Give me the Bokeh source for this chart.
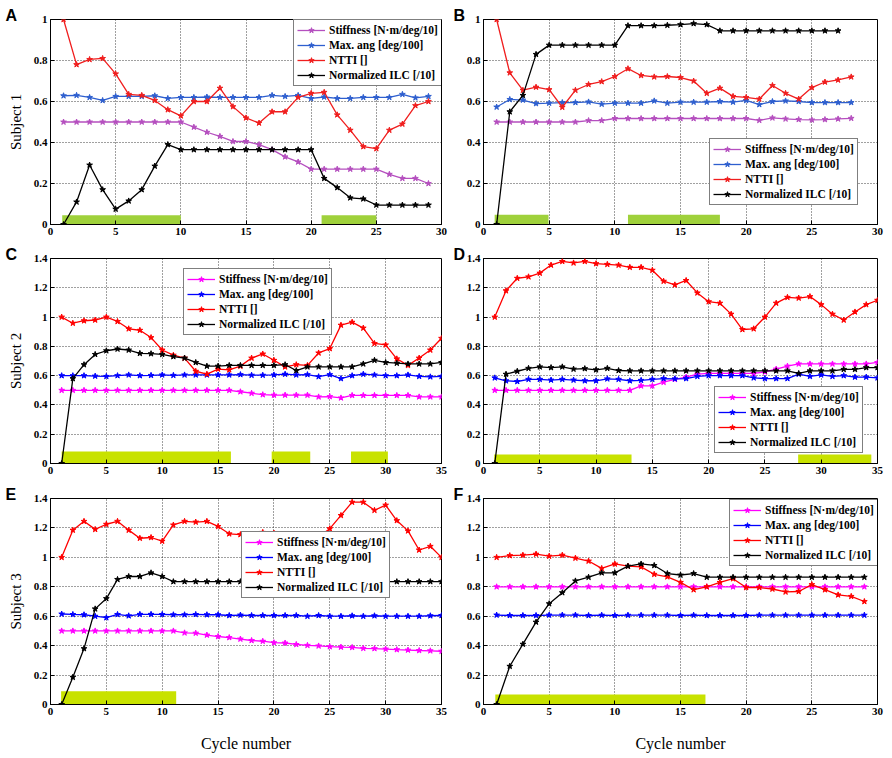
from bokeh.plotting import figure
from bokeh.layouts import row, column
from bokeh.models import (Range1d, FixedTicker, Legend, LegendItem, Title,
                          CustomJSTickFormatter)
from bokeh.embed import file_html
from bokeh.resources import INLINE

# ---------------- data ----------------
series_names = ["Stiffness [N\u00b7m/deg/10]", "Max. ang [deg/100]", "NTTI []", "Normalized ILC [/10]"]

cyc_a = list(range(1, 30))
stiff_a = [0.50, 0.50, 0.50, 0.50, 0.50, 0.50, 0.50, 0.50, 0.50, 0.50, 0.475, 0.45, 0.43, 0.405, 0.405,
           0.39, 0.365, 0.33, 0.305, 0.27, 0.27, 0.27, 0.27, 0.27, 0.27, 0.245, 0.225, 0.225, 0.20]
maxang_a = [0.628, 0.63, 0.62, 0.605, 0.625, 0.625, 0.625, 0.628, 0.615, 0.62, 0.62, 0.622, 0.62, 0.62, 0.62,
            0.62, 0.63, 0.625, 0.63, 0.615, 0.622, 0.615, 0.615, 0.62, 0.62, 0.62, 0.635, 0.618, 0.625]
ntti_a = [1.0, 0.78, 0.805, 0.81, 0.735, 0.635, 0.63, 0.605, 0.56, 0.53, 0.6, 0.6, 0.665, 0.575, 0.52,
          0.495, 0.55, 0.55, 0.62, 0.64, 0.645, 0.535, 0.46, 0.38, 0.37, 0.46, 0.49, 0.58, 0.6]
ilc_a = [0.0, 0.11, 0.29, 0.17, 0.075, 0.115, 0.17, 0.285, 0.39, 0.365, 0.365, 0.365, 0.365, 0.365, 0.365,
         0.365, 0.365, 0.365, 0.365, 0.365, 0.225, 0.18, 0.13, 0.125, 0.095, 0.095, 0.095, 0.095, 0.095]
bar_start_a = [0.9, 20.8]
bar_end_a = [10.0, 25.0]
bar_h_a = 0.045

cyc_b = list(range(1, 29))
cyc_b_ilc = list(range(1, 28))
stiff_b = [0.5, 0.5, 0.5, 0.5, 0.5, 0.5, 0.5, 0.507, 0.507, 0.517, 0.517, 0.517, 0.517, 0.517, 0.517,
           0.517, 0.517, 0.517, 0.517, 0.517, 0.508, 0.52, 0.515, 0.512, 0.51, 0.512, 0.515, 0.518]
maxang_b = [0.573, 0.61, 0.607, 0.59, 0.592, 0.595, 0.595, 0.598, 0.587, 0.592, 0.592, 0.592, 0.603, 0.592,
            0.597, 0.597, 0.597, 0.6, 0.597, 0.605, 0.585, 0.6, 0.603, 0.6, 0.595, 0.595, 0.595, 0.595]
ntti_b = [1.0, 0.74, 0.655, 0.67, 0.658, 0.572, 0.655, 0.683, 0.697, 0.722, 0.76, 0.727, 0.72, 0.722,
          0.717, 0.7, 0.64, 0.665, 0.625, 0.62, 0.612, 0.678, 0.64, 0.612, 0.668, 0.695, 0.705, 0.72]
ilc_b = [0.0, 0.55, 0.63, 0.83, 0.875, 0.875, 0.875, 0.875, 0.875, 0.875, 0.97, 0.97, 0.97, 0.972,
         0.975, 0.98, 0.975, 0.945, 0.945, 0.945, 0.945, 0.945, 0.945, 0.945, 0.945, 0.945, 0.945]
bar_start_b = [0.85, 11.0]
bar_end_b = [4.95, 18.0]
bar_h_b = 0.047

cyc_c = list(range(1, 36))
stiff_c = [0.5, 0.5, 0.5, 0.5, 0.5, 0.5, 0.5, 0.5, 0.5, 0.5, 0.5, 0.5, 0.5, 0.5, 0.5, 0.5,
           0.49, 0.48, 0.47, 0.467, 0.467, 0.467, 0.467, 0.455, 0.457, 0.448, 0.465, 0.465, 0.465,
           0.465, 0.465, 0.465, 0.455, 0.455, 0.455]
maxang_c = [0.6, 0.6, 0.6, 0.597, 0.595, 0.6, 0.605, 0.6, 0.602, 0.605, 0.602, 0.605, 0.605, 0.605, 0.605,
            0.605, 0.607, 0.603, 0.603, 0.605, 0.61, 0.605, 0.607, 0.593, 0.607, 0.58, 0.6, 0.61, 0.605,
            0.6, 0.6, 0.605, 0.595, 0.592, 0.595]
ntti_c = [1.0, 0.958, 0.975, 0.98, 1.0, 0.97, 0.92, 0.91, 0.86, 0.775, 0.74, 0.72, 0.63, 0.61, 0.645,
          0.64, 0.665, 0.72, 0.748, 0.705, 0.66, 0.675, 0.67, 0.755, 0.785, 0.945, 0.965, 0.925, 0.82,
          0.81, 0.715, 0.67, 0.72, 0.775, 0.855]
ilc_c = [0.0, 0.58, 0.675, 0.745, 0.77, 0.782, 0.775, 0.752, 0.75, 0.745, 0.73, 0.72, 0.69, 0.665, 0.665,
         0.67, 0.67, 0.67, 0.67, 0.67, 0.675, 0.635, 0.66, 0.66, 0.66, 0.66, 0.66, 0.68, 0.705, 0.69,
         0.685, 0.68, 0.68, 0.68, 0.69]
bar_start_c = [1.0, 19.8, 26.9]
bar_end_c = [16.15, 23.25, 30.2]
bar_h_c = 0.082

cyc_d = list(range(1, 36))
stiff_d = [0.5, 0.5, 0.5, 0.5, 0.5, 0.5, 0.5, 0.5, 0.5, 0.5, 0.5, 0.5, 0.5, 0.53, 0.53, 0.555, 0.575,
           0.59, 0.61, 0.615, 0.615, 0.615, 0.615, 0.615, 0.625, 0.645, 0.665, 0.68, 0.68, 0.68, 0.68,
           0.68, 0.68, 0.68, 0.69]
maxang_d = [0.585, 0.565, 0.56, 0.575, 0.575, 0.57, 0.575, 0.57, 0.565, 0.565, 0.578, 0.575, 0.565, 0.568,
            0.575, 0.58, 0.578, 0.58, 0.595, 0.6, 0.6, 0.6, 0.6, 0.585, 0.58, 0.58, 0.58, 0.61, 0.595,
            0.605, 0.595, 0.6, 0.59, 0.59, 0.585]
ntti_d = [1.0, 1.18, 1.265, 1.275, 1.3, 1.355, 1.38, 1.37, 1.38, 1.365, 1.36, 1.355, 1.34, 1.34, 1.32,
          1.245, 1.22, 1.25, 1.165, 1.105, 1.095, 1.02, 0.915, 0.92, 1.0, 1.095, 1.135, 1.13, 1.14,
          1.085, 1.02, 0.98, 1.035, 1.085, 1.115]
ilc_d = [0.0, 0.61, 0.63, 0.65, 0.66, 0.655, 0.66, 0.645, 0.648, 0.64, 0.65, 0.635, 0.633, 0.633, 0.633,
         0.633, 0.633, 0.633, 0.633, 0.633, 0.633, 0.633, 0.633, 0.633, 0.633, 0.633, 0.633, 0.615,
         0.633, 0.633, 0.633, 0.643, 0.643, 0.655, 0.655]
bar_start_d = [0.95, 27.95]
bar_end_d = [13.15, 34.45]
bar_h_d = 0.062

cyc_e = list(range(1, 36))
stiff_e = [0.5, 0.5, 0.5, 0.5, 0.5, 0.5, 0.5, 0.5, 0.5, 0.5, 0.5, 0.487, 0.485, 0.472, 0.462, 0.455,
           0.445, 0.435, 0.43, 0.42, 0.418, 0.408, 0.402, 0.398, 0.393, 0.39, 0.388, 0.382, 0.38, 0.377,
           0.373, 0.37, 0.367, 0.365, 0.362]
maxang_e = [0.615, 0.612, 0.61, 0.6, 0.59, 0.612, 0.603, 0.613, 0.613, 0.612, 0.61, 0.61, 0.612, 0.61,
            0.61, 0.605, 0.608, 0.605, 0.605, 0.605, 0.605, 0.605, 0.6, 0.605, 0.6, 0.6, 0.603, 0.6,
            0.603, 0.6, 0.6, 0.6, 0.6, 0.603, 0.605]
ntti_e = [1.0, 1.185, 1.245, 1.19, 1.225, 1.245, 1.185, 1.13, 1.135, 1.11, 1.22, 1.245, 1.24, 1.245, 1.21,
          1.16, 1.155, 1.155, 1.17, 1.165, 1.12, 1.1, 1.12, 1.14, 1.195, 1.285, 1.375, 1.375, 1.32,
          1.355, 1.25, 1.18, 1.05, 1.075, 1.0]
ilc_e = [0.0, 0.185, 0.38, 0.65, 0.72, 0.85, 0.87, 0.87, 0.895, 0.87, 0.835, 0.835, 0.835, 0.835, 0.835,
         0.835, 0.835, 0.835, 0.835, 0.835, 0.835, 0.835, 0.835, 0.835, 0.835, 0.835, 0.835, 0.835,
         0.835, 0.835, 0.835, 0.835, 0.835, 0.835, 0.835]
bar_start_e = [0.95]
bar_end_e = [11.25]
bar_h_e = 0.09

cyc_f = list(range(1, 30))
stiff_f = [0.8, 0.8, 0.8, 0.8, 0.8, 0.8, 0.8, 0.8, 0.8, 0.8, 0.8, 0.8, 0.8, 0.8, 0.8, 0.8, 0.8, 0.8,
           0.8, 0.8, 0.8, 0.8, 0.8, 0.8, 0.8, 0.8, 0.8, 0.8, 0.8]
maxang_f = [0.608, 0.605, 0.605, 0.605, 0.608, 0.608, 0.608, 0.605, 0.607, 0.605, 0.607, 0.607, 0.607,
            0.607, 0.605, 0.607, 0.605, 0.605, 0.605, 0.605, 0.607, 0.607, 0.607, 0.607, 0.607, 0.607,
            0.607, 0.607, 0.607]
ntti_f = [1.0, 1.012, 1.015, 1.022, 1.008, 1.015, 0.995, 0.975, 0.925, 0.955, 0.94, 0.935, 0.885, 0.868,
          0.83, 0.78, 0.8, 0.83, 0.855, 0.795, 0.795, 0.785, 0.765, 0.768, 0.815, 0.78, 0.745, 0.735, 0.7]
ilc_f = [0.0, 0.26, 0.41, 0.56, 0.685, 0.76, 0.84, 0.865, 0.895, 0.895, 0.94, 0.955, 0.945, 0.89, 0.88,
         0.89, 0.865, 0.865, 0.865, 0.865, 0.865, 0.865, 0.865, 0.865, 0.865, 0.865, 0.865, 0.865, 0.865]
bar_start_f = [0.9]
bar_end_f = [16.9]
bar_h_f = 0.068

x_ticks_30 = [0, 5, 10, 15, 20, 25, 30]
x_ticks_35 = [0, 5, 10, 15, 20, 25, 30, 35]
y_ticks_1 = [0, 0.2, 0.4, 0.6, 0.8, 1.0]
y_ticks_14 = [0, 0.2, 0.4, 0.6, 0.8, 1.0, 1.2, 1.4]

# ---------------- styling ----------------
colors_s1 = ["#b54fbf", "#2e5fcf", "#f01e1e", "#000000"]
colors_s23 = ["#ff00ff", "#0000ff", "#ff0000", "#000000"]
bar_s1 = "#9fd13b"
bar_s23 = "#c8e200"

SERIF = "Liberation Serif"
SANS = "Liberation Sans"

LEFT = dict(width=451, fl=50, fr=10)
RIGHT = dict(width=434, fl=32, fr=8)
ROWS = [dict(height=244, ft=19, fb=20), dict(height=240, ft=14, fb=21), dict(height=270, ft=14, fb=50)]


def panel(col, rw, xmax, xticks, ymax, yticks, data, colors, bars, legend_xy, letter, letter_off,
          ylabel=None, xlabel=None):
    p = figure(width=col["width"], height=rw["height"],
               x_range=Range1d(0, xmax), y_range=Range1d(0, ymax),
               output_backend="svg", toolbar_location=None,
               min_border_left=col["fl"], min_border_right=col["fr"],
               min_border_top=rw["ft"], min_border_bottom=rw["fb"])
    p.title = Title(text=letter, align="left", offset=letter_off, standoff=-8,
                    text_font=SANS, text_font_style="bold", text_font_size="16px",
                    text_color="black")
    p.background_fill_color = "white"
    p.border_fill_color = "white"
    p.outline_line_color = "black"
    p.outline_line_width = 1
    p.xaxis.ticker = FixedTicker(ticks=xticks)
    p.yaxis.ticker = FixedTicker(ticks=yticks)
    fmt = CustomJSTickFormatter(code="return (Math.round(tick*10)/10).toString();")
    p.yaxis.formatter = fmt
    for ax in [p.xaxis[0], p.yaxis[0]]:
        ax.major_label_text_font = SERIF
        ax.major_label_text_font_style = "bold"
        ax.major_label_text_font_size = "11px"
        ax.major_label_text_color = "black"
        ax.major_label_standoff = 3
        ax.major_tick_in = 4
        ax.major_tick_out = 0
        ax.minor_tick_line_color = None
        ax.axis_line_color = "black"
        ax.major_tick_line_color = "black"
        ax.axis_label_text_font = SERIF
        ax.axis_label_text_font_style = "normal"
        ax.axis_label_text_color = "black"
    p.grid.grid_line_color = "black"
    p.grid.grid_line_dash = "1 2"
    p.grid.grid_line_alpha = 0.75
    p.grid.grid_line_width = 1

    if ylabel:
        p.yaxis.axis_label = ylabel
        p.yaxis.axis_label_text_font_size = "15px"
        p.yaxis.axis_label_standoff = 7
    if xlabel:
        p.xaxis.axis_label = xlabel
        p.xaxis.axis_label_text_font_size = "16px"
        p.xaxis.axis_label_standoff = 17

    bl, br, bh, bc = bars
    p.quad(left=bl, right=br, bottom=[0] * len(bl), top=[bh] * len(bl),
           fill_color=bc, line_color=None)

    items = []
    for (xs, ys), c, name in zip(data, colors, series_names):
        lr = p.line(xs, ys, line_color=c, line_width=1.3)
        sr = p.scatter(xs, ys, marker="star", size=6, fill_color=c, line_color=c)
        items.append(LegendItem(label=name, renderers=[lr, sr]))

    leg = Legend(items=items, location=legend_xy,
                 label_text_font=SERIF, label_text_font_style="bold",
                 label_text_font_size="11.5px", label_text_color="black",
                 glyph_width=28, glyph_height=14, label_height=14, label_standoff=4,
                 spacing=1, padding=3, margin=0,
                 border_line_color="black", border_line_width=1,
                 background_fill_color="white", background_fill_alpha=1.0)
    p.add_layout(leg)
    return p


pA = panel(LEFT, ROWS[0], 30, x_ticks_30, 1.0, y_ticks_1,
           [(cyc_a, stiff_a), (cyc_a, maxang_a), (cyc_a, ntti_a), (cyc_a, ilc_a)],
           colors_s1, (bar_start_a, bar_end_a, bar_h_a, bar_s1), (243, 138), "A", -45,
           ylabel="Subject 1")
pB = panel(RIGHT, ROWS[0], 30, x_ticks_30, 1.0, y_ticks_1,
           [(cyc_b, stiff_b), (cyc_b, maxang_b), (cyc_b, ntti_b), (cyc_b_ilc, ilc_b)],
           colors_s1, (bar_start_b, bar_end_b, bar_h_b, bar_s1), (226, 19), "B", -30)
pC = panel(LEFT, ROWS[1], 35, x_ticks_35, 1.4, y_ticks_14,
           [(cyc_c, stiff_c), (cyc_c, maxang_c), (cyc_c, ntti_c), (cyc_c, ilc_c)],
           colors_s23, (bar_start_c, bar_end_c, bar_h_c, bar_s23), (133, 128), "C", -45,
           ylabel="Subject 2")
pD = panel(RIGHT, ROWS[1], 35, x_ticks_35, 1.4, y_ticks_14,
           [(cyc_d, stiff_d), (cyc_d, maxang_d), (cyc_d, ntti_d), (cyc_d, ilc_d)],
           colors_s23, (bar_start_d, bar_end_d, bar_h_d, bar_s23), (231, 10), "D", -30)
pE = panel(LEFT, ROWS[2], 35, x_ticks_35, 1.4, y_ticks_14,
           [(cyc_e, stiff_e), (cyc_e, maxang_e), (cyc_e, ntti_e), (cyc_e, ilc_e)],
           colors_s23, (bar_start_e, bar_end_e, bar_h_e, bar_s23), (191, 106), "E", -45,
           ylabel="Subject 3", xlabel="Cycle number")
pF = panel(RIGHT, ROWS[2], 30, x_ticks_30, 1.4, y_ticks_14,
           [(cyc_f, stiff_f), (cyc_f, maxang_f), (cyc_f, ntti_f), (cyc_f, ilc_f)],
           colors_s23, (bar_start_f, bar_end_f, bar_h_f, bar_s23), (246, 138), "F", -30,
           xlabel="Cycle number")

layout = column(row(pA, pB), row(pC, pD), row(pE, pF))

with open("out.html", "w") as f:
    f.write(file_html(layout, INLINE))
